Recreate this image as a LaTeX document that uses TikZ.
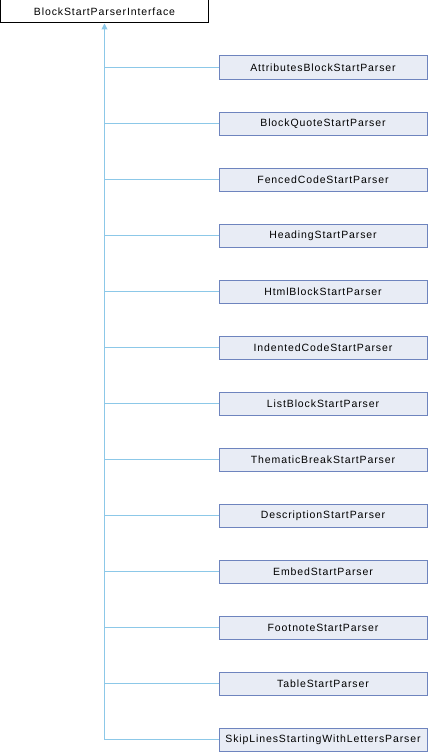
\documentclass[tikz,border=0pt]{standalone}
\usepackage{fontspec}
\setmainfont{Liberation Sans}
\newfontfamily\doxfont[LetterSpace=8.5]{Liberation Sans}
\usetikzlibrary{arrows.meta}
\definecolor{edgeblue}{HTML}{8CC8E8}
\definecolor{boxborder}{HTML}{6E84BE}
\definecolor{boxfill}{HTML}{E8ECF5}
\tikzset{
  cls/.style={draw=boxborder, fill=boxfill, line width=1pt, minimum width=208pt, minimum height=23pt, inner sep=0pt, font=\doxfont\fontsize{10.5}{12}\selectfont},
  base/.style={draw=black, fill=white, line width=1pt, minimum width=208pt, minimum height=23pt, inner sep=0pt, font=\doxfont\fontsize{10.5}{12}\selectfont},
  inh/.style={draw=edgeblue, line width=1pt},
}
\begin{document}
\begin{tikzpicture}[x=1pt,y=-1pt]
\useasboundingbox (0,0) rectangle (428,752);
\node[base] (root) at (104.5,11.5) {BlockStartParserInterface};
\foreach \n [count=\i from 0] in {AttributesBlockStartParser,BlockQuoteStartParser,FencedCodeStartParser,HeadingStartParser,HtmlBlockStartParser,IndentedCodeStartParser,ListBlockStartParser,ThematicBreakStartParser,DescriptionStartParser,EmbedStartParser,FootnoteStartParser,TableStartParser,SkipLinesStartingWithLettersParser}{
  \node[cls] (c\i) at (323,67.5+56*\i) {\n};
  \draw[inh] (c\i.west) -- (104.5,67.5+56*\i);
}
\coordinate (tail) at (104.5,739.5);
\draw[inh, -{Triangle[length=6pt,width=6pt,fill=edgeblue]}] (tail) -- (root.south);
\end{tikzpicture}
\end{document}
